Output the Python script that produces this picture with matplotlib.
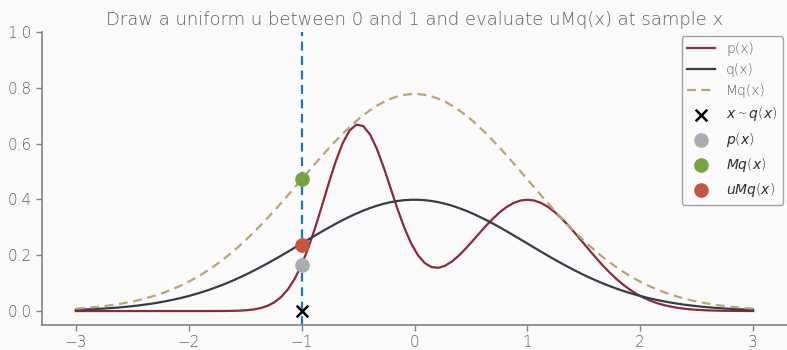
import numpy as np
import matplotlib
matplotlib.use("Agg")
import matplotlib.pyplot as plt

# Target density p(x): two-component Gaussian mixture
p_means = [-0.5, 1.0]
p_sds = [0.3, 0.5]
p_weights = [0.5, 0.5]
# Proposal q(x): standard normal, scaled by envelope constant M
q_mean = 0.0
q_sd = 1.0
M = 1.95
# Sampled point and uniform draw
x_sample = -1.0
u_draw = 0.5

x_grid = np.linspace(-3, 3, 100)


def normal_pdf(x, mu, sd):
    return np.exp(-0.5 * ((x - mu) / sd) ** 2) / (sd * np.sqrt(2 * np.pi))


def p_pdf(x):
    return sum(w * normal_pdf(x, m, s) for w, m, s in zip(p_weights, p_means, p_sds))


def q_pdf(x):
    return normal_pdf(x, q_mean, q_sd)


bg = "#fafafa"
text_gray = "#5c616a"
spine_gray = "#7d838c"

plt.rcParams.update({
    "font.family": "DejaVu Sans",
    "font.weight": "light",
    "axes.edgecolor": spine_gray,
    "xtick.color": spine_gray,
    "ytick.color": spine_gray,
    "xtick.labelcolor": text_gray,
    "ytick.labelcolor": text_gray,
})

fig = plt.figure(figsize=(7.87, 3.5), dpi=100, facecolor=bg)
ax = fig.add_axes([42 / 787, 25 / 350, 745 / 787, 293 / 350])
ax.set_facecolor(bg)

ax.plot(x_grid, p_pdf(x_grid), color="#8b2a3b", lw=1.6, label="p(x)")
ax.plot(x_grid, q_pdf(x_grid), color="#343d48", lw=1.6, label="q(x)")
ax.plot(x_grid, M * q_pdf(x_grid), color="#b9a571", lw=1.6, ls=(0, (4, 2.5)), label="Mq(x)")
ax.axvline(x_sample, color="#1f77b4", lw=1.6, ls=(0, (4, 2.5)))

ax.scatter([x_sample], [0], marker="x", s=70, color="black", lw=1.8, zorder=5,
           label=r"$x \sim q(x)$")
ax.scatter([x_sample], [p_pdf(x_sample)], s=90, color="#a9acb2", zorder=5,
           label=r"$p(x)$")
ax.scatter([x_sample], [M * q_pdf(x_sample)], s=90, color="#74a441", zorder=5,
           label=r"$Mq(x)$")
ax.scatter([x_sample], [u_draw * M * q_pdf(x_sample)], s=90, color="#c9533b", zorder=5,
           label=r"$uMq(x)$")

ax.set_xlim(-3.3, 3.3)
ax.set_ylim(-0.05, 1.0)
ax.set_xticks([-3, -2, -1, 0, 1, 2, 3])
ax.set_yticks([0.0, 0.2, 0.4, 0.6, 0.8, 1.0])
ax.tick_params(labelsize=11, length=4, width=1)
for side in ("top", "right"):
    ax.spines[side].set_visible(False)
for side in ("left", "bottom"):
    ax.spines[side].set_linewidth(1.2)

ax.set_title("Draw a uniform u between 0 and 1 and evaluate uMq(x) at sample x",
             color=text_gray, fontsize=13, pad=5, fontweight="light")

leg = ax.legend(loc="upper right", fontsize=10, frameon=True, fancybox=True,
                facecolor=bg, edgecolor="#8a8f96", borderaxespad=0.3,
                handlelength=2.0, labelspacing=0.52)
for t in leg.get_texts()[:3]:
    t.set_color(text_gray)
for t in leg.get_texts()[3:]:
    t.set_color("#2b2f36")

fig.savefig("out.png", dpi=100, facecolor=bg)
